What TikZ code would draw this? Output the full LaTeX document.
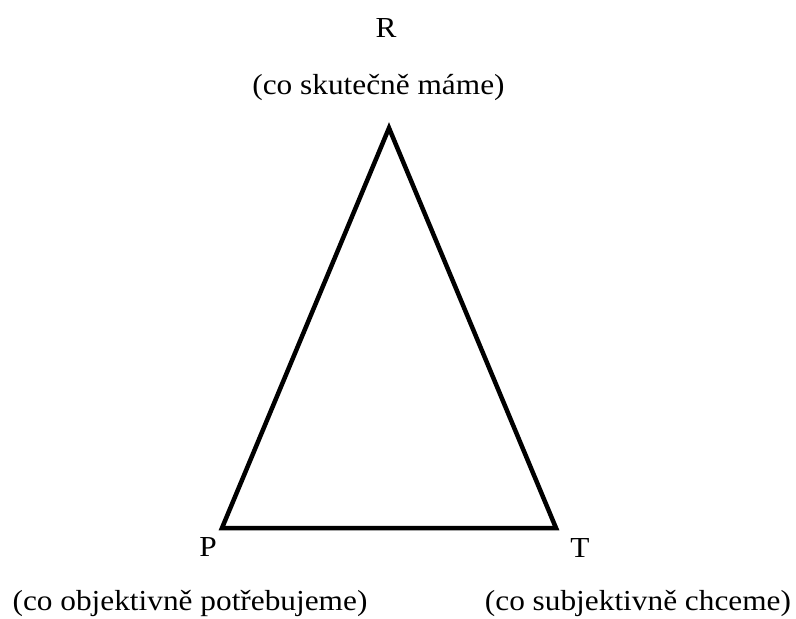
\documentclass[tikz,border=0pt]{standalone}
\usepackage{fontspec}
\setmainfont{Liberation Serif}[FakeStretch=1.08]
\begin{document}
\begin{tikzpicture}[x=1pt,y=-1pt,
  lbl/.style={inner sep=0pt, font=\fontsize{29}{34}\selectfont},
  edge/.style={line width=4.5pt, line join=miter}]
\useasboundingbox (0,0) rectangle (796,619);
\coordinate (r) at (389,128);
\coordinate (p) at (222,528);
\coordinate (t) at (556,528);
\draw[edge] (r) -- (t) -- (p) -- cycle;
\node[lbl] (R) at (386,28) {R};
\node[lbl] (Rd) at (378.5,87) {(co skutečně máme)};
\node[lbl] (P) at (208,547) {P};
\node[lbl] (Pd) at (190,603) {(co objektivně potřebujeme)};
\node[lbl] (T) at (580,548) {T};
\node[lbl] (Td) at (638,603) {(co subjektivně chceme)};
\end{tikzpicture}
\end{document}
